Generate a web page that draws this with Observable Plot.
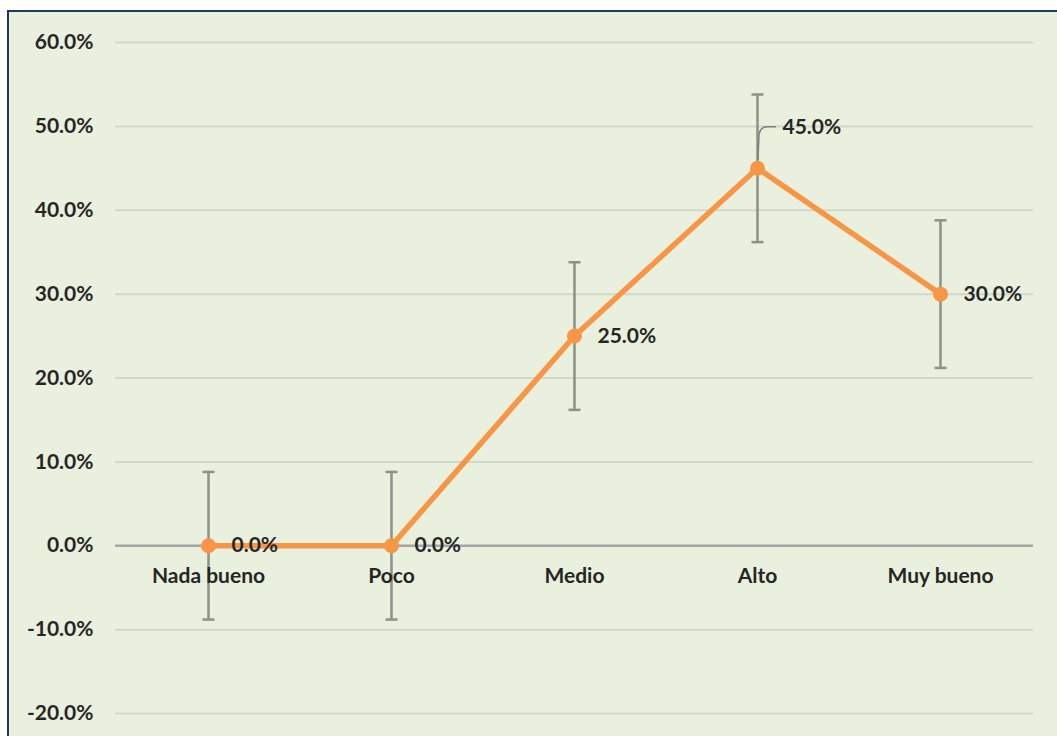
<!DOCTYPE html>
<html>
<head>
<meta charset="utf-8">
<script src="https://cdn.jsdelivr.net/npm/d3@7"></script>
<script src="https://cdn.jsdelivr.net/npm/@observablehq/plot@0.6"></script>
<style>
  html, body { margin: 0; padding: 0; background: #ffffff; }
  #wrap { position: relative; width: 1057px; height: 736px; overflow: hidden; }
  #frame { position: absolute; left: 7px; top: 10px; width: 1100px; height: 800px;
           background: #EAF0DE; border-top: 2px solid #1F3864; border-left: 2px solid #1F3864; }
  #chart { position: absolute; left: 0; top: 0; }
</style>
</head>
<body>
<div id="wrap"><div id="frame"></div><div id="chart"></div></div>
<script>
const categories = ["Nada bueno", "Poco", "Medio", "Alto", "Muy bueno"];
const values = [0.0, 0.0, 0.25, 0.45, 0.30];
const errors = [0.088, 0.088, 0.088, 0.088, 0.088];
const yTicks = [-0.2, -0.1, 0, 0.1, 0.2, 0.3, 0.4, 0.5, 0.6];
const calloutCategory = "Alto";

const data = categories.map((c, i) => ({cat: c, v: values[i], e: errors[i]}));
const pct = d => (d * 100).toFixed(1) + "%";

const capSymbol = { draw(ctx) { ctx.moveTo(-6, 0); ctx.lineTo(6, 0); } };
const errColor = "#8b9286";
const orange = "#F79646";

const leader = (index, scales) => {
  const px = scales.x(calloutCategory);
  const py = scales.y(values[categories.indexOf(calloutCategory)]);
  const p = d3.create("svg:path")
    .attr("d", `M${px + 1},${py - 8} L${px + 2},${py - 33} Q${px + 3},${py - 40} ${px + 9},${py - 41} L${px + 19},${py - 41}`)
    .attr("fill", "none").attr("stroke", "#7f7f7f").attr("stroke-width", 1.5);
  return p.node();
};

const chart = Plot.plot({
  width: 1057, height: 736,
  marginLeft: 115, marginRight: 24, marginTop: 42, marginBottom: 23,
  x: {type: "point", domain: categories, padding: 0.5, axis: null},
  y: {domain: [-0.2, 0.6], ticks: yTicks, tickFormat: pct, tickSize: 0, tickPadding: 22, label: null},
  style: {background: "transparent", fontFamily: "Lato, sans-serif", fontSize: "21px", fontWeight: "bold", color: "#262626", overflow: "visible"},
  marks: [
    Plot.gridY(yTicks, {stroke: "#d3d7cb", strokeOpacity: 1, strokeWidth: 2}),
    Plot.ruleY([0], {stroke: "#a6a6a6", strokeWidth: 2.5}),
    Plot.ruleX(data, {x: "cat", y1: d => d.v - d.e, y2: d => d.v + d.e, stroke: errColor, strokeWidth: 2.5}),
    Plot.dot(data, {x: "cat", y: d => d.v + d.e, symbol: capSymbol, fill: "none", stroke: errColor, strokeWidth: 2.5}),
    Plot.dot(data, {x: "cat", y: d => d.v - d.e, symbol: capSymbol, fill: "none", stroke: errColor, strokeWidth: 2.5}),
    Plot.line(data, {x: "cat", y: "v", stroke: orange, strokeWidth: 5.5}),
    Plot.dot(data, {x: "cat", y: "v", r: 7.5, fill: orange, stroke: "none"}),
    leader,
    Plot.text(data.filter(d => d.cat !== calloutCategory), {x: "cat", y: "v", text: d => pct(d.v), dx: 23, textAnchor: "start", fill: "#262626"}),
    Plot.text(data.filter(d => d.cat === calloutCategory), {x: "cat", y: "v", text: d => pct(d.v), dx: 25, dy: -41, textAnchor: "start", fill: "#262626"}),
    Plot.text(categories, {x: d => d, y: () => 0, dy: 31, text: d => d, fill: "#262626"})
  ]
});
document.getElementById("chart").appendChild(chart);
</script>
</body>
</html>
